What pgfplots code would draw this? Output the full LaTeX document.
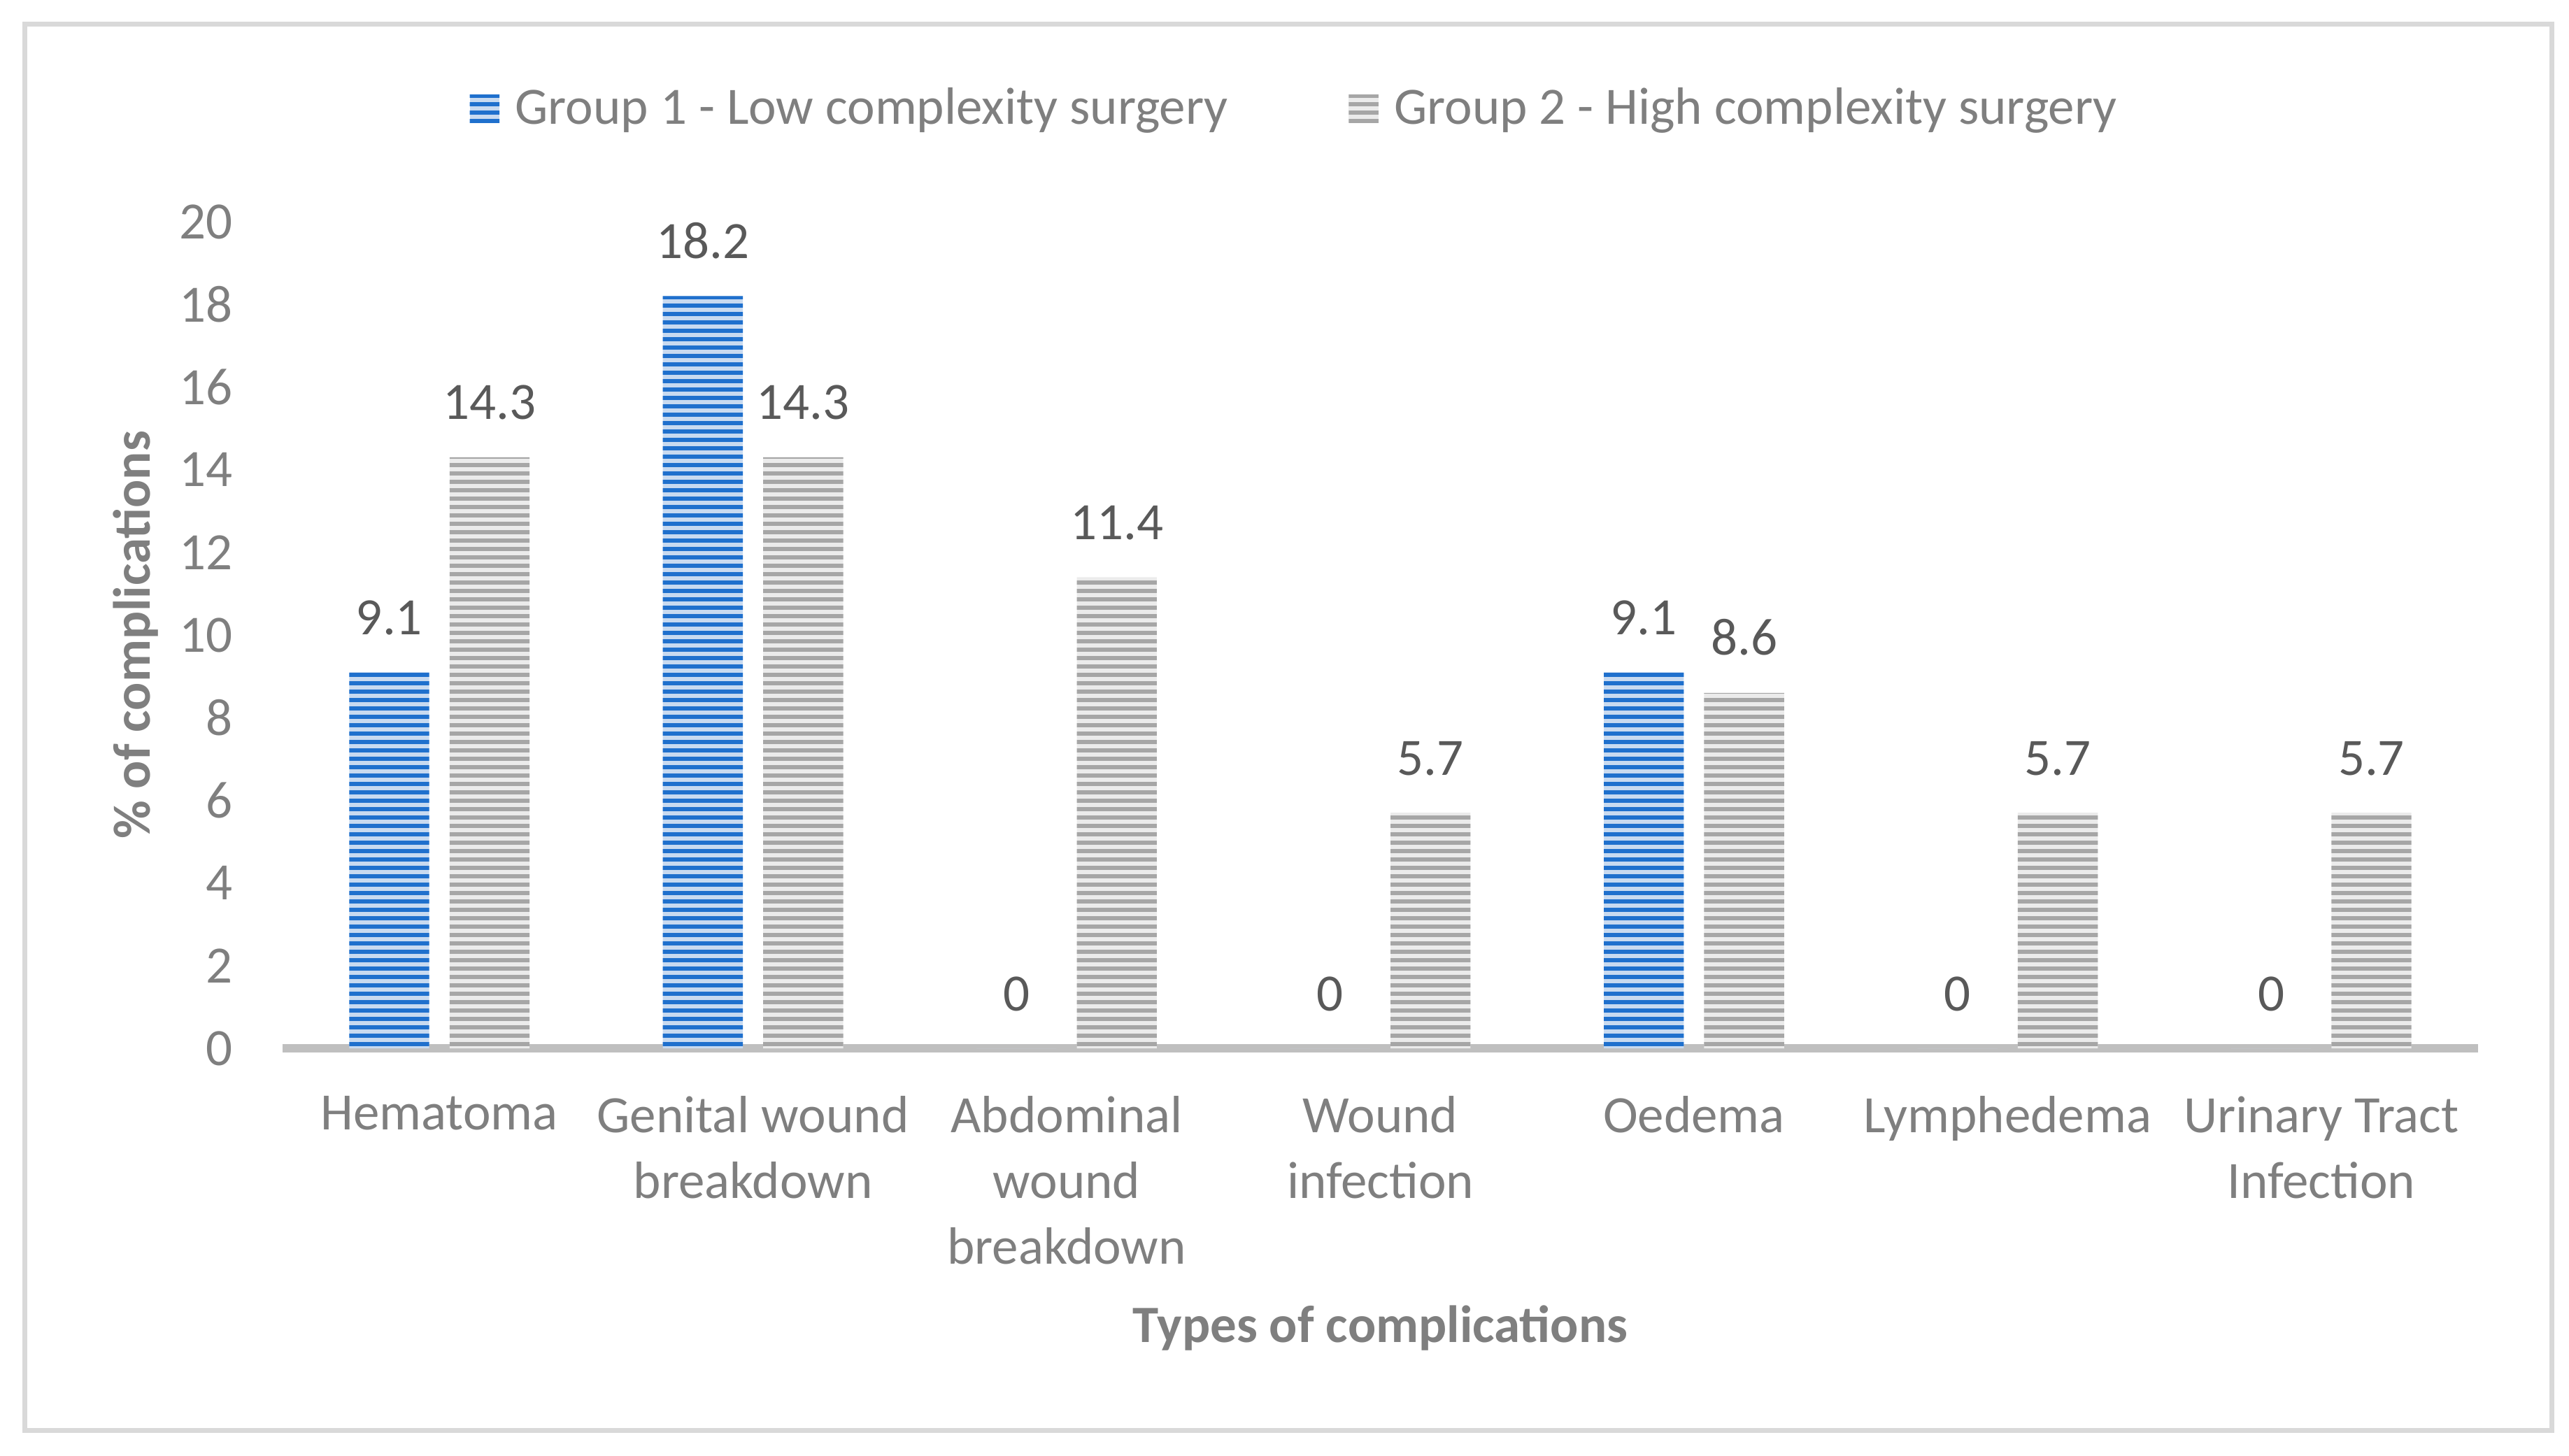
\documentclass[border=0pt]{standalone}
\usepackage{fontspec}
\setmainfont{Carlito}
\usepackage{pgfplots}
\pgfplotsset{compat=1.18}
\usetikzlibrary{patterns.meta}

\definecolor{blueDark}{HTML}{1F70CD}
\definecolor{blueLight}{HTML}{C8DAF0}
\definecolor{grayDark}{HTML}{A6A6A6}
\definecolor{grayLight}{HTML}{EBEBEB}
\definecolor{frameGray}{HTML}{D9D9D9}
\definecolor{axisGray}{HTML}{BFBFBF}
\definecolor{tickGray}{HTML}{7F7F7F}
\definecolor{labelGray}{HTML}{595959}

\newcommand{\chartfont}{\fontsize{15}{18.8}\selectfont}

\begin{document}
\begin{tikzpicture}[x=1pt,y=1pt]
% page and chart frame
\path (0,0) rectangle (734.6,416.2);
\draw[line width=1.4pt, frameGray] (7,7.2) rectangle (729.6,409.2);

\begin{axis}[
  at={(80.8pt,116.4pt)}, anchor=south west,
  scale only axis, width=627.8pt, height=236.4pt,
  ybar, bar width=0.255,
  xmin=-0.5, xmax=6.5, ymin=0, ymax=20,
  ytick={0,2,...,20},
  xtick={0,...,6},
  xticklabels={Hematoma, Genital wound\\breakdown, Abdominal\\wound\\breakdown,
    Wound\\infection, Oedema, Lymphedema, Urinary Tract\\Infection},
  axis x line*=bottom, axis y line*=left,
  x axis line style={-, line width=2.4pt, axisGray},
  y axis line style={draw=none},
  major tick length=0pt,
  /pgf/number format/assume math mode=true,
  ticklabel style={font=\chartfont, text=tickGray},
  xticklabel style={align=center, anchor=north, inner sep=0pt, yshift=-13.5pt},
  yticklabel style={anchor=east, inner sep=0pt, xshift=-14pt},
  xlabel={\textbf{Types of complications}},
  ylabel={\textbf{\% of complications}},
  label style={font=\chartfont, text=tickGray},
  xlabel style={at={(axis description cs:0.5,-0.338)}, anchor=center},
  ylabel style={at={(axis description cs:-0.067,0.5)}, anchor=center},
  nodes near coords,
  every node near coord/.append style={font=\chartfont, text=labelGray,
    anchor=south, inner sep=0pt, yshift=10.5pt},
  legend style={at={(0.464,1.137)}, anchor=center, draw=none, font=\chartfont,
    text=tickGray, legend columns=2,
    nodes={inner xsep=4.5pt},
    /tikz/every even column/.append style={column sep=30pt}},
  legend image code/.code={\fill[#1] (-1pt,-4pt) rectangle (7.5pt,4pt);},
  clip=false,
]

\addplot[bar shift=-0.16, draw=none, fill=blueLight,
  postaction={pattern={Lines[angle=0,distance=2.4pt,line width=1.2pt]}, pattern color=blueDark}]
  coordinates {(0,9.1) (1,18.2) (2,0) (3,0) (4,9.1) (5,0) (6,0)};
\addlegendentry{Group 1 - Low complexity surgery}

\addplot[bar shift=0.16, draw=none, fill=grayLight,
  postaction={pattern={Lines[angle=0,distance=2.4pt,line width=1.2pt]}, pattern color=grayDark}]
  coordinates {(0,14.3) (1,14.3) (2,11.4) (3,5.7) (4,8.6) (5,5.7) (6,5.7)};
\addlegendentry{Group 2 - High complexity surgery}

\end{axis}
\end{tikzpicture}
\end{document}
